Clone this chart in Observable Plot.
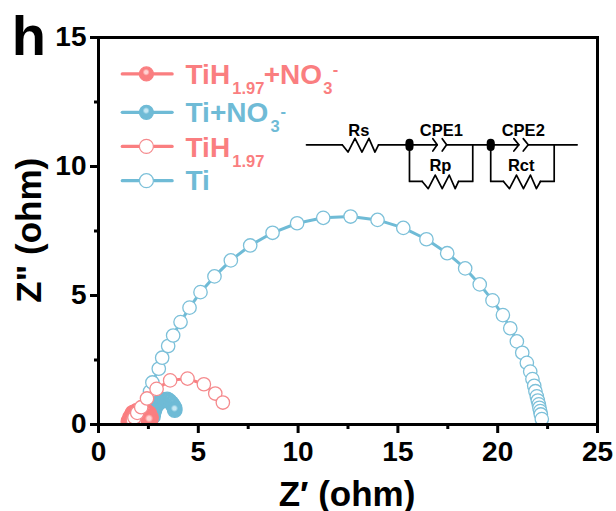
<!DOCTYPE html>
<html><head><meta charset="utf-8">
<style>html,body{margin:0;padding:0;background:#fff}svg{display:block}</style>
<script src="https://cdn.jsdelivr.net/npm/d3@7"></script>
<script src="https://cdn.jsdelivr.net/npm/@observablehq/plot@0.6"></script>
</head><body><div id="chart"></div>
<script>
const PINK = "#fa7e80", BLUE = "#6fbbd6";
const PINK_EDGE = "#f58a8d", BLUE_EDGE = "#7cc0d9";

const tiX = [2.35,2.45,2.58,2.7,3.02,3.19,3.49,3.74,4.11,4.56,5.11,5.81,6.63,7.6,8.72,9.95,11.26,12.63,13.98,15.27,16.43,17.47,18.37,19.1,19.74,20.26,20.63,20.96,21.23,21.46,21.63,21.74,21.83,21.89,21.96,22.01,22.06,22.09,22.13,22.16,22.21];
const tiY = [0.54,0.93,1.28,1.63,2.16,2.59,3.04,3.45,3.97,4.53,5.13,5.74,6.36,6.94,7.43,7.8,8.01,8.06,7.93,7.62,7.18,6.64,6.05,5.43,4.81,4.24,3.73,3.22,2.78,2.39,2.05,1.76,1.5,1.29,1.09,0.93,0.78,0.65,0.52,0.39,0.21];
const tihX = [1.73,1.8,1.94,2.14,2.43,2.91,3.59,4.46,5.28,5.85,6.23];
const tihY = [0.16,0.27,0.45,0.67,1.01,1.38,1.71,1.78,1.56,1.2,0.85];
const tiNo3X = [2.73,2.76,2.81,2.93,3.11,3.26,3.44,3.56,3.66,3.74,3.81,3.82];
const tiNo3Y = [0.31,0.46,0.58,0.76,0.89,0.95,0.97,0.91,0.83,0.74,0.64,0.56];
const tihNo3X = [1.55,1.63,1.75,1.93,2.13,2.35,2.5,2.58,2.55];
const tihNo3Y = [0.12,0.27,0.43,0.5,0.52,0.5,0.41,0.27,0.16];

const xMajor = [0,5,10,15,20,25], xMinor = [2.5,7.5,12.5,17.5,22.5];
const yMajor = [0,5,10,15], yMinor = [2.5,7.5,12.5];

// legend, in data units
const legendLineX = [1.19,3.69], legendDotX = [2.4];
const legendRows = [
  {y:13.59, color:PINK, edge:PINK_EDGE, ball:true},
  {y:12.1, color:BLUE, edge:BLUE_EDGE, ball:true},
  {y:10.78, color:PINK, edge:PINK_EDGE, ball:false},
  {y:9.45, color:BLUE, edge:BLUE_EDGE, ball:false}
];
const legendText = [
  {t:"TiH",x:4.36,y:13.2,c:PINK},{t:"+NO",x:8.28,y:13.2,c:PINK},{t:"Ti+NO",x:4.36,y:11.72,c:BLUE},
  {t:"TiH",x:4.36,y:10.36,c:PINK},{t:"Ti",x:4.36,y:9.07,c:BLUE}
];
const legendSmall = [
  {t:"1.97",x:6.7,y:12.81,c:PINK},{t:"3",x:11.26,y:12.81,c:PINK},{t:"-",x:11.74,y:13.53,c:PINK},
  {t:"3",x:8.62,y:11.33,c:BLUE},{t:"-",x:9.12,y:11.92,c:BLUE},{t:"1.97",x:6.7,y:10.0,c:PINK}
];

// equivalent circuit, in data units
const wires = [
  [[10.42,10.84],[12.21,10.84]],
  [[14.03,10.84],[16.97,10.84]],
  [[17.44,10.84],[21.06,10.84]],
  [[21.53,10.84],[23.98,10.84]],
  [[15.58,10.84],[15.58,9.42],[16.22,9.42]],
  [[18.04,9.42],[18.75,9.42],[18.75,10.84]],
  [[19.65,10.84],[19.65,9.42],[20.29,9.42]],
  [[22.14,9.42],[22.83,9.42],[22.83,10.84]],
  [[12.21,10.84],[12.5,10.56],[12.85,11.09],[13.2,10.56],[13.55,11.09],[13.85,10.56],[14.03,10.84]],
  [[16.22,9.42],[16.52,9.14],[16.87,9.67],[17.22,9.14],[17.57,9.67],[17.87,9.14],[18.04,9.42]],
  [[20.29,9.42],[20.59,9.14],[20.94,9.67],[21.29,9.14],[21.64,9.67],[21.94,9.14],[22.14,9.42]],
  [[16.75,11.08],[16.97,10.84],[16.75,10.6]],
  [[17.22,11.08],[17.44,10.84],[17.22,10.6]],
  [[20.81,11.08],[21.06,10.84],[20.81,10.6]],
  [[21.28,11.08],[21.53,10.84],[21.28,10.6]]
];
const nodeX = [15.58,15.58,15.58,19.65,19.65,19.65];
const nodeY = [10.76,10.84,10.92,10.76,10.84,10.92];
const circuitLabels = [
  {t:"Rs",x:13.04,y:11.2},{t:"CPE1",x:17.18,y:11.2},{t:"CPE2",x:21.28,y:11.2},
  {t:"Rp",x:17.13,y:9.84},{t:"Rct",x:21.18,y:9.84}
];

const zip = (xs, ys) => xs.map((x, i) => ({x, y: ys[i]}));
const FONT = "'Liberation Sans', Arial, sans-serif";

function gradients() {
  const ns = "http://www.w3.org/2000/svg";
  const defs = document.createElementNS(ns, "defs");
  [["ballPink", PINK, "#ffd2d2"], ["ballBlue", BLUE, "#c6e8f4"]].forEach(([id, c, l]) => {
    const g = document.createElementNS(ns, "radialGradient");
    g.setAttribute("id", id);
    g.setAttribute("cx", "0.48"); g.setAttribute("cy", "0.38"); g.setAttribute("r", "0.5");
    [["0", l], ["0.22", l], ["0.5", c], ["1", c]].forEach(([o, col]) => {
      const s = document.createElementNS(ns, "stop");
      s.setAttribute("offset", o); s.setAttribute("stop-color", col);
      g.appendChild(s);
    });
    defs.appendChild(g);
  });
  return defs;
}

const series = (xs, ys, stroke, edge, fill, r = 6.7) => [
  Plot.line(zip(xs, ys), {x:"x", y:"y", stroke, strokeWidth:3, clip:"frame"}),
  Plot.dot(zip(xs, ys), {x:"x", y:"y", r, stroke:edge, strokeWidth:1.3, fill, clip:"frame"})
];

const chart = Plot.plot({
  width:616, height:511,
  marginLeft:98, marginRight:19, marginTop:37, marginBottom:87,
  style:{fontFamily:FONT, background:"#fff", overflow:"visible"},
  x:{domain:[0,25], label:null},
  y:{domain:[0,15], label:null},
  marks:[
    gradients,
    ...series(tiX, tiY, BLUE, BLUE_EDGE, "#fff"),
    ...series(tiNo3X, tiNo3Y, BLUE, BLUE, "url(#ballBlue)", 7.3),
    ...series(tihNo3X, tihNo3Y, PINK, PINK, "url(#ballPink)", 8.3),
    ...series(tihX, tihY, PINK, PINK_EDGE, "#fff"),

    Plot.frame({stroke:"#000", strokeWidth:3}),
    Plot.axisX({ticks:xMajor, tickSize:9, tickPadding:8, strokeWidth:3, fontSize:28, fontWeight:"bold", color:"#000", label:null, tickFormat:d=>String(d)}),
    Plot.axisX({ticks:xMinor, tickSize:5, strokeWidth:3, color:"#000", label:null, tickFormat:()=>""}),
    Plot.axisY({ticks:yMajor, tickSize:8, tickPadding:4, strokeWidth:3, fontSize:28, fontWeight:"bold", color:"#000", label:null, tickFormat:d=>String(d)}),
    Plot.axisY({ticks:yMinor, tickSize:4, strokeWidth:3, color:"#000", label:null, tickFormat:()=>""}),

    Plot.text(["Z\u2032 (ohm)"], {x:[12.45], y:[-3.14], text:d=>d, fontSize:35, fontWeight:"bold", fill:"#000", lineAnchor:"bottom"}),
    Plot.text(['Z" (ohm)'], {x:[-2.9], y:[7.53], text:d=>d, fontSize:35, fontWeight:"bold", fill:"#000", rotate:-90, lineAnchor:"bottom"}),
    Plot.text(["h"], {x:[-4.35], y:[14.34], text:d=>d, fontSize:56, fontWeight:"bold", fill:"#000", textAnchor:"start", lineAnchor:"bottom"}),

    ...legendRows.flatMap(r => [
      Plot.line(legendLineX.map(x => ({x, y:r.y})), {x:"x", y:"y", stroke:r.color, strokeWidth:3.2}),
      Plot.dot(legendDotX.map(x => ({x, y:r.y})), {x:"x", y:"y", r:7, stroke:r.ball ? r.color : r.edge, strokeWidth:1.2,
        fill: r.ball ? (r.color === PINK ? "url(#ballPink)" : "url(#ballBlue)") : "#fff"})
    ]),
    Plot.text(legendText, {x:"x", y:"y", text:"t", fill:"c", fontSize:28, fontWeight:"bold", textAnchor:"start", lineAnchor:"bottom"}),
    Plot.text(legendSmall, {x:"x", y:"y", text:"t", fill:"c", fontSize:16.5, fontWeight:"bold", textAnchor:"start", lineAnchor:"bottom"}),

    ...wires.map(w => Plot.line(w.map(([x, y]) => ({x, y})), {x:"x", y:"y", stroke:"#000", strokeWidth:1.7, curve:"linear"})),
    Plot.dot(zip(nodeX, nodeY), {x:"x", y:"y", r:4, fill:"#000"}),
    Plot.text(circuitLabels, {x:"x", y:"y", text:"t", fill:"#000", fontSize:16.5, fontWeight:"bold", lineAnchor:"bottom"})
  ]
});
document.getElementById("chart").appendChild(chart);
</script></body></html>
